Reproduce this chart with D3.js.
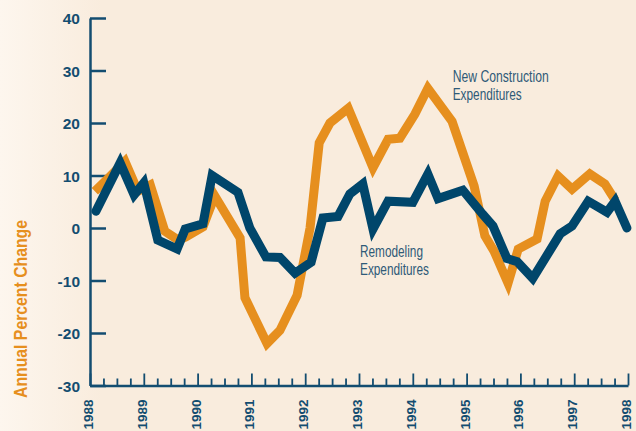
<!DOCTYPE html>
<html>
<head>
<meta charset="utf-8">
<script src="https://cdn.jsdelivr.net/npm/d3@7"></script>
<style>
  body { margin: 0; background: #f9ecdd; }
  svg { display: block; }
</style>
</head>
<body>
<svg id="chart" width="636" height="431"></svg>
<script>
// values (dates as decimal years)
var newDates = [1988.09, 1988.32, 1988.65, 1988.89, 1989.12, 1989.39, 1989.64, 1989.78, 1990.10, 1990.32,
                1990.79, 1990.88, 1991.29, 1991.53, 1991.85, 1992.09, 1992.26, 1992.46, 1992.80, 1993.26,
                1993.54, 1993.76, 1994.04, 1994.28, 1994.73, 1995.14, 1995.34, 1995.51, 1995.77, 1995.96,
                1996.31, 1996.46, 1996.70, 1996.96, 1997.29, 1997.57, 1997.76];
var newValues = [7.0, 9.3, 12.7, 7.0, 8.2, -0.6, -2.3, -1.7, 0.2, 6.1,
                 -1.9, -13.3, -22.0, -19.5, -12.8, 0.0, 16.2, 20.0, 22.8, 11.5,
                 16.9, 17.1, 21.7, 26.6, 20.3, 8.0, -1.5, -4.4, -10.5, -4.0,
                 -2.1, 5.1, 9.9, 7.4, 10.3, 8.4, 5.3];

var remDates = [1988.11, 1988.56, 1988.82, 1989.00, 1989.26, 1989.62, 1989.77, 1990.10, 1990.27, 1990.75,
                1990.97, 1991.27, 1991.53, 1991.81, 1992.11, 1992.33, 1992.61, 1992.83, 1993.07, 1993.26,
                1993.54, 1994.00, 1994.28, 1994.47, 1994.93, 1995.30, 1995.49, 1995.75, 1995.94, 1996.23,
                1996.74, 1996.96, 1997.26, 1997.61, 1997.76, 1997.98];
var remValues = [3.2, 12.4, 6.3, 8.6, -2.3, -4.0, -0.2, 0.8, 10.0, 6.8,
                 0.0, -5.5, -5.6, -8.6, -6.5, 1.9, 2.2, 6.5, 8.4, -0.2,
                 5.1, 4.9, 10.3, 5.6, 7.2, 2.6, 0.4, -5.8, -6.4, -9.6,
                 -1.1, 0.4, 5.1, 3.0, 5.1, 0.0];

var yTicks = [-30, -20, -10, 0, 10, 20, 30, 40];
var years = [1988, 1989, 1990, 1991, 1992, 1993, 1994, 1995, 1996, 1997, 1998];

var blue = "#00466b", orange = "#e68f1e", axisColor = "#134d70";
var narrow = "'Liberation Sans Narrow', 'Arial Narrow', 'Liberation Sans', Arial, sans-serif";

var svg = d3.select("#chart");

// background, a bit lighter at the far left
var defs = svg.append("defs");
var grad = defs.append("linearGradient").attr("id", "bg").attr("x1", 0).attr("x2", 1).attr("y1", 0).attr("y2", 0);
grad.append("stop").attr("offset", "0%").attr("stop-color", "#fdf6ee");
grad.append("stop").attr("offset", "16%").attr("stop-color", "#f9ecdd");
grad.append("stop").attr("offset", "100%").attr("stop-color", "#f9ecdd");
svg.append("rect").attr("width", 636).attr("height", 431).attr("fill", "url(#bg)");

var x = d3.scaleLinear().domain([1988, 1998]).range([90, 628]);
var y = d3.scaleLinear().domain([-30, 40]).range([385.5, 18]);

// y axis: ticks point into the plot, labels on the left
var yAxis = svg.append("g")
    .attr("transform", "translate(" + x(1988) + ",0)")
    .call(d3.axisLeft(y).tickValues(yTicks).tickSizeInner(-16).tickSizeOuter(0).tickPadding(10)
        .tickFormat(function(d) { return String(d); }));
yAxis.select(".domain").attr("stroke", axisColor).attr("stroke-width", 2.5);
yAxis.selectAll(".tick line").attr("stroke", axisColor).attr("stroke-width", 2.5);
yAxis.selectAll(".tick text")
    .attr("fill", axisColor)
    .attr("dy", "0.36em")
    .style("font-family", narrow)
    .style("font-weight", "bold")
    .style("font-size", "15.5px");

// x axis: quarterly ticks, taller at each year
var quarters = d3.range(0, 41).map(function(i) { return 1988 + i / 4; });
var xAxis = svg.append("g")
    .attr("transform", "translate(0," + y(-30) + ")")
    .call(d3.axisBottom(x).tickValues(quarters).tickSizeInner(-7).tickSizeOuter(0)
        .tickFormat(function(d) { return years.indexOf(d) >= 0 ? d : ""; }));
xAxis.select(".domain").attr("stroke", axisColor).attr("stroke-width", 2.5);
xAxis.selectAll(".tick line")
    .attr("stroke", axisColor).attr("stroke-width", 1.8)
    .attr("y2", function(d) { return years.indexOf(d) >= 0 ? -12 : -7; });
xAxis.selectAll(".tick text")
    .attr("fill", axisColor)
    .attr("transform", "rotate(-90)")
    .attr("text-anchor", "end")
    .attr("x", -14).attr("y", 2.5).attr("dy", 0)
    .style("font-family", narrow)
    .style("font-weight", "bold")
    .style("font-size", "13.5px");

// axis title
svg.append("text")
    .attr("transform", "translate(27,309) rotate(-90)")
    .attr("text-anchor", "middle")
    .attr("fill", orange)
    .attr("textLength", 178).attr("lengthAdjust", "spacingAndGlyphs")
    .style("font-family", narrow)
    .style("font-weight", "bold")
    .style("font-size", "19px")
    .text("Annual Percent Change");

// series lines
var line = d3.line()
    .x(function(d) { return x(d[0]); })
    .y(function(d) { return y(d[1]); });

svg.append("path")
    .datum(d3.zip(newDates, newValues))
    .attr("d", line)
    .attr("fill", "none")
    .attr("stroke", orange)
    .attr("stroke-width", 9)
    .attr("stroke-linejoin", "miter")
    .attr("stroke-linecap", "butt");

svg.append("path")
    .datum(d3.zip(remDates, remValues))
    .attr("d", line)
    .attr("fill", "none")
    .attr("stroke", blue)
    .attr("stroke-width", 9)
    .attr("stroke-linejoin", "miter")
    .attr("stroke-linecap", "round");

// labels on the plot
var notes = [
  {t: "New Construction", x: 452.7, y: 81.7, w: 96},
  {t: "Expenditures", x: 452.7, y: 100, w: 69},
  {t: "Remodeling", x: 360, y: 256.7, w: 63},
  {t: "Expenditures", x: 360, y: 275, w: 69}
];
svg.selectAll(".note").data(notes).enter().append("text")
    .attr("class", "note")
    .attr("x", function(d) { return d.x; })
    .attr("y", function(d) { return d.y; })
    .attr("textLength", function(d) { return d.w; })
    .attr("lengthAdjust", "spacingAndGlyphs")
    .attr("fill", "#2f5a78")
    .style("font-family", narrow)
    .style("font-size", "16px")
    .text(function(d) { return d.t; });
</script>
</body>
</html>
